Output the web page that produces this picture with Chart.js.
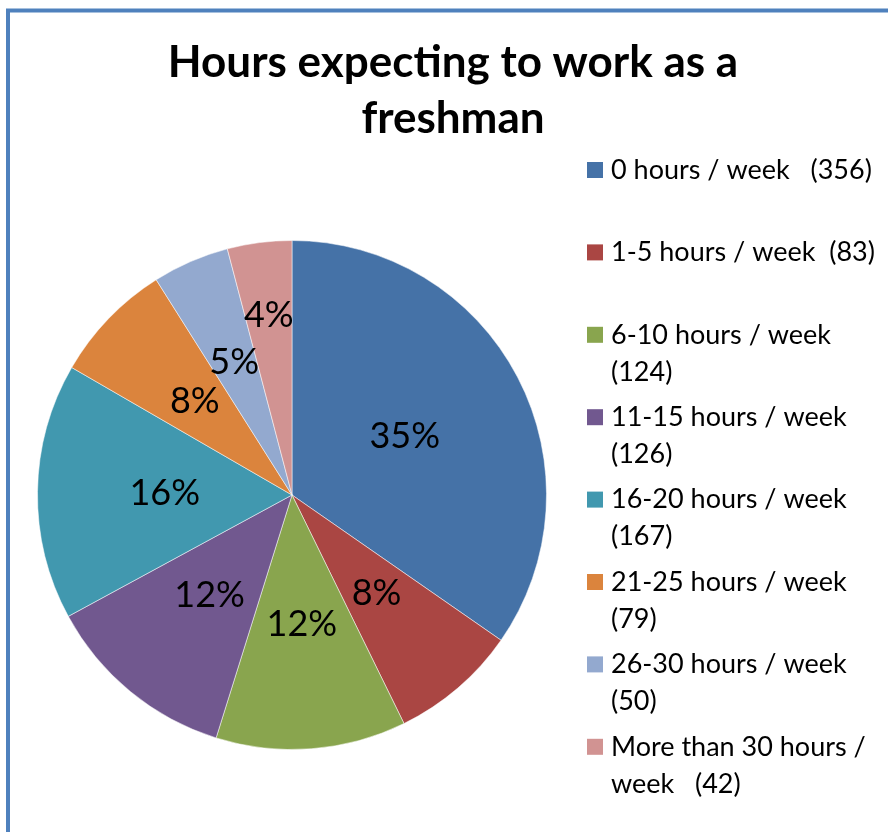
<!DOCTYPE html>
<html>
<head>
<meta charset="utf-8">
<script src="https://cdn.jsdelivr.net/npm/chart.js@4.4.0/dist/chart.umd.min.js"></script>
<style>
  html, body { margin: 0; padding: 0; background: #fff; }
  #wrap { position: relative; width: 888px; height: 832px; }
</style>
</head>
<body>
<div id="wrap"><canvas id="hours"></canvas></div>
<script>
const categories = ["0 hours / week", "1-5 hours / week", "6-10 hours / week", "11-15 hours / week",
  "16-20 hours / week", "21-25 hours / week", "26-30 hours / week", "More than 30 hours / week"];
const counts = [356, 83, 124, 126, 167, 79, 50, 42];
// legend text as Excel wrapped it
const legendLines = [
  ["0 hours / week   (356)"],
  ["1-5 hours / week  (83)"],
  ["6-10 hours / week", "(124)"],
  ["11-15 hours / week", "(126)"],
  ["16-20 hours / week", "(167)"],
  ["21-25 hours / week", "(79)"],
  ["26-30 hours / week", "(50)"],
  ["More than 30 hours /", "week   (42)"]
];
const titleLines = ["Hours expecting to work as a", "freshman"];
const colors = ["#4572A7", "#AA4643", "#89A54E", "#71588F", "#4198AF", "#DB843D", "#93A9CF", "#D19392"];

const FONT = "Lato, 'Open Sans', sans-serif";

const decor = {
  id: 'decor',
  beforeDraw(chart) {
    const ctx = chart.ctx;
    ctx.save();
    ctx.fillStyle = '#fff';
    ctx.fillRect(0, 0, chart.width, chart.height);
    // frame
    ctx.strokeStyle = '#4F81BD';
    ctx.lineWidth = 4;
    ctx.beginPath();
    ctx.moveTo(8, chart.height);
    ctx.lineTo(8, 10.5);
    ctx.lineTo(chart.width, 10.5);
    ctx.stroke();
    ctx.restore();
  },
  afterDraw(chart, args, opts) {
    const ctx = chart.ctx;
    ctx.save();
    // title
    ctx.fillStyle = '#000';
    ctx.textAlign = 'center';
    ctx.textBaseline = 'middle';
    ctx.font = 'bold 44px ' + FONT;
    titleLines.forEach((t, i) => ctx.fillText(t, 453, 63 + i * 56));

    // percentage labels
    const meta = chart.getDatasetMeta(0);
    const total = counts.reduce((a, b) => a + b, 0);
    ctx.font = '36px ' + FONT;
    meta.data.forEach((arc, i) => {
      const p = arc.getProps(['x', 'y', 'startAngle', 'endAngle', 'outerRadius']);
      const mid = (p.startAngle + p.endAngle) / 2;
      const r = p.outerRadius * opts.labelRadius[i];
      const pct = Math.round(counts[i] / total * 100) + '%';
      ctx.fillText(pct, p.x + Math.cos(mid) * r, p.y + Math.sin(mid) * r);
    });

    // legend
    ctx.textAlign = 'left';
    ctx.font = '27px ' + FONT;
    legendLines.forEach((lines, i) => {
      const y = 170 + i * 82.4;
      ctx.fillStyle = colors[i];
      ctx.fillRect(587, y - 8, 16, 16);
      ctx.fillStyle = '#000';
      lines.forEach((t, j) => ctx.fillText(t, 611, y + j * 37));
    });
    ctx.restore();
  }
};

const ctxHours = document.getElementById("hours").getContext("2d");
new Chart(ctxHours, {
  type: 'pie',
  data: {
    labels: categories,
    datasets: [{
      data: counts,
      backgroundColor: colors,
      borderColor: 'rgba(255,255,255,0.5)',
      borderWidth: 1
    }]
  },
  options: {
    responsive: true,
    maintainAspectRatio: false,
    animation: false,
    layout: { padding: { left: 37, top: 240, right: 341, bottom: 82 } },
    plugins: {
      legend: { display: false },
      tooltip: { enabled: false },
      decor: { labelRadius: [0.5, 0.51, 0.51, 0.51, 0.5, 0.53, 0.57, 0.71] }
    }
  },
  plugins: [decor]
});
</script>
</body>
</html>
